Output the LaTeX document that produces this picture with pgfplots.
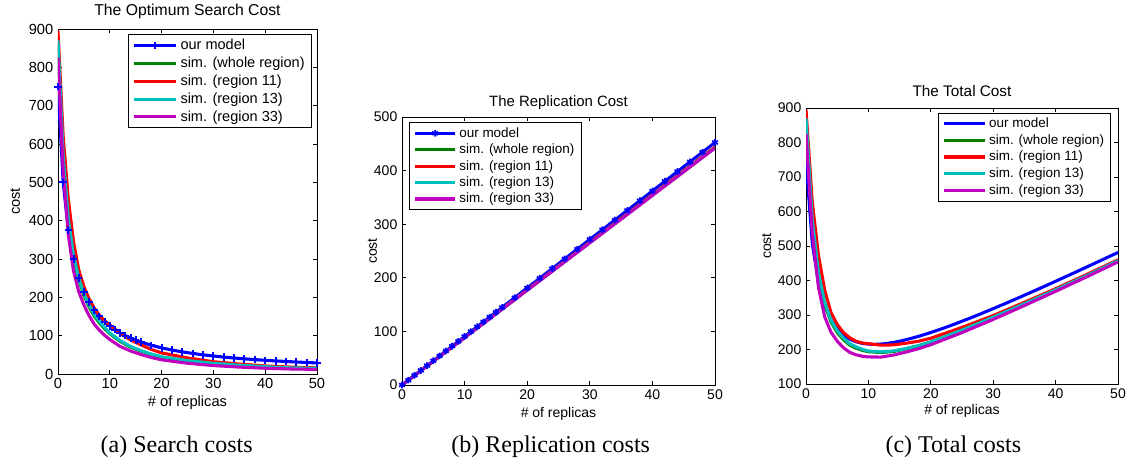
\documentclass[border=0pt]{standalone}
\usepackage{pgfplots}
\pgfplotsset{compat=1.18}
\usepackage{fontspec}
\setmainfont{Liberation Sans}
\newfontfamily\capfont{Liberation Serif}

\definecolor{mblue}{rgb}{0,0,1}
\definecolor{mgreen}{rgb}{0,0.5,0}
\definecolor{mred}{rgb}{1,0,0}
\definecolor{mcyan}{rgb}{0,0.75,0.75}
\definecolor{mmag}{rgb}{0.75,0,0.75}

% search cost, simulations (x, green, red, cyan, magenta)
\pgfplotstableread{
x   green red  cyan mag
0   860   895  870  825
1   560   620  570  530
2   398   455  405  362
3   305   345  310  268
4   245   272  250  215
5   205   228  210  180
6   175   196  180  152
7   151   172  155  130
8   133   153  137  114
9   118   139  121  101
10  105   128  107  90
12  85    106  87   72
14  70    89   72   60
16  60    76   61   51
18  51    64   52   43
20  44    55   45   37
25  34    42   35   28
30  27    32   28   22
35  22    26   23   18
40  18    21   19   15
45  15    18   16   13
50  14    16   15   12
}\searchsim

% model: search, replication and total cost
\pgfplotstableread{
x   search  repl   total
0   750     0      750
1   500     9.05   509.05
2   375     18.1   393.1
3   300     27.15  327.15
4   250     36.2   286.2
5   214.3   45.25  259.55
6   187.5   54.3   241.8
7   166.7   63.35  230.05
8   150     72.4   222.4
9   136.4   81.45  217.85
10  125     90.5   215.5
11  115.4   99.55  214.95
12  107.1   108.6  215.7
13  100     117.65 217.65
14  93.8    126.7  220.5
15  88.2    135.75 223.95
16  83.3    144.8  228.1
18  75      162.9  237.9
20  68.2    181    249.2
22  62.5    199.1  261.6
24  57.7    217.2  274.9
26  53.6    235.3  288.9
28  50      253.4  303.4
30  46.9    271.5  318.4
32  44.1    289.6  333.7
34  41.7    307.7  349.4
36  39.5    325.8  365.3
38  37.5    343.9  381.4
40  35.7    362    397.7
42  34.1    380.1  414.2
44  32.6    398.2  430.8
46  31.3    416.3  447.6
48  30      434.4  464.4
50  28.8    452.5  481.3
}\model

% replication cost, simulations
\pgfplotstableread{
x   green  red    cyan   mag
0   0      0      0      0
10  88.6   88.8   88.5   88.4
20  177.2  177.6  177    176.8
30  265.8  266.4  265.5  265.2
40  354.4  355.2  354    353.6
50  443    444    442.5  442
}\replsim

% total cost, simulations
\pgfplotstableread{
x   green   red     cyan    mag
0   860     895     870     825
1   568.86  628.9   578.85  538.84
2   415.72  472.8   422.7   379.68
3   331.58  371.64  336.55  294.52
4   280.44  307.52  285.4   250.36
5   249.3   272.4   254.25  224.2
6   228.16  249.28  233.1   205.04
7   213.02  234.16  216.95  191.88
8   203.88  224.04  207.8   184.72
9   197.74  218.92  200.65  180.56
10  193.6   216.8   195.5   178.4
12  191.32  212.56  193.2   178.08
14  194.04  213.32  195.9   183.76
16  201.76  218.08  202.6   192.44
18  210.48  223.84  211.3   202.12
20  221.2   232.6   222     213.8
25  255.5   264     256.25  249
30  292.8   298.4   293.5   287.2
35  332.1   336.8   332.75  327.4
40  372.4   376.2   373     368.6
45  413.7   417.6   414.25  410.8
50  457     460     457.5   454
}\totalsim

\pgfplotsset{
  matlab/.style={
    scale only axis,
    xmin=0, xmax=50, xtick={0,10,...,50},
    tick align=inside,
    major tick length=3pt,
    axis line style={line width=0.6pt},
    every tick/.style={black, line width=0.5pt},
    /pgf/number format/assume math mode=true,
    /pgf/number format/1000 sep={},
    legend cell align=left,
    legend style={draw=black, line width=0.6pt, fill=white,
      inner xsep=3pt, inner ysep=1.5pt},
    every axis plot/.append style={line width=2.3pt},
    ylabel={cost},
    xlabel={\# of replicas},
    every axis title shift=0pt,
    title style={anchor=base},
    xlabel style={anchor=base},
    ylabel style={anchor=base},
  },
  leglen/.style={
    legend image code/.code={%
      \draw[mark repeat=2,mark phase=2,##1] plot coordinates {(0pt,0pt) (#1/2,0pt) (#1,0pt)};}
  },
}

\begin{document}
\begin{tikzpicture}
\path[use as bounding box] (0pt,0pt) rectangle (853.5pt,347.25pt);

% (a) search cost
\begin{axis}[matlab, leglen=32pt,
  at={(43.5pt,66.75pt)}, anchor=south west,
  width=194.25pt, height=258.75pt,
  ymin=0, ymax=900, ytick={0,100,...,900},
  ticklabel style={font=\fontsize{11}{13}\selectfont},
  label style={font=\fontsize{11}{13}\selectfont},
  title={The Optimum Search Cost},
  title style={at={(axis description cs:0.5,1.038)}, font=\fontsize{11.8}{13}\selectfont},
  xlabel style={at={(axis description cs:0.5,-0.093)}},
  ylabel style={at={(axis description cs:-0.147,0.5)}},
  legend style={at={(0.9795,0.985)}, anchor=north east, row sep=0pt,
    font=\fontsize{10.9}{13}\selectfont},
]
\addplot[mblue, mark=+, mark size=2.8pt, mark options={solid, line width=1.5pt}] table[x=x, y=search] {\model};
\addplot[mgreen] table[x=x, y=green] {\searchsim};
\addplot[mred] table[x=x, y=red] {\searchsim};
\addplot[mcyan] table[x=x, y=cyan] {\searchsim};
\addplot[mmag] table[x=x, y=mag] {\searchsim};
\legend{our model, sim. (whole region), sim. (region 11), sim. (region 13), sim. (region 33)}
\end{axis}

% (b) replication cost
\begin{axis}[matlab, leglen=30pt,
  at={(301.5pt,58.5pt)}, anchor=south west,
  width=234.75pt, height=201pt,
  ymin=0, ymax=500, ytick={0,100,...,500},
  ticklabel style={font=\fontsize{10.5}{12}\selectfont},
  label style={font=\fontsize{10.5}{12}\selectfont},
  title={The Replication Cost},
  title style={at={(axis description cs:0.5,1.038)}, font=\fontsize{11.2}{13}\selectfont},
  xlabel style={at={(axis description cs:0.5,-0.122)}},
  ylabel style={at={(axis description cs:-0.08,0.5)}},
  legend style={at={(0.023,0.98)}, anchor=north west, row sep=-0.5pt,
    font=\fontsize{10.1}{12}\selectfont},
]
\addplot[mblue, mark=asterisk, mark size=2.5pt, mark options={solid, line width=1.3pt}] table[x=x, y=repl] {\model};
\addplot[mgreen] table[x=x, y=green] {\replsim};
\addplot[mred] table[x=x, y=red] {\replsim};
\addplot[mcyan] table[x=x, y=cyan] {\replsim};
\addplot[mmag] table[x=x, y=mag] {\replsim};
\legend{our model, sim. (whole region), sim. (region 11), sim. (region 13), sim. (region 33)}
\end{axis}

% (c) total cost
\begin{axis}[matlab, leglen=30.5pt,
  at={(604.5pt,59.25pt)}, anchor=south west,
  width=234pt, height=207pt,
  ymin=100, ymax=900, ytick={100,200,...,900},
  ticklabel style={font=\fontsize{10.5}{12}\selectfont},
  label style={font=\fontsize{10.5}{12}\selectfont},
  title={The Total Cost},
  title style={at={(axis description cs:0.5,1.041)}, font=\fontsize{11.5}{13}\selectfont},
  xlabel style={at={(axis description cs:0.5,-0.112)}},
  ylabel style={at={(axis description cs:-0.112,0.5)}},
  legend style={at={(0.978,0.983)}, anchor=north east, row sep=-0.3pt,
    font=\fontsize{10.1}{12}\selectfont},
]
\addplot[mblue] table[x=x, y=total] {\model};
\addplot[mgreen] table[x=x, y=green] {\totalsim};
\addplot[mred] table[x=x, y=red] {\totalsim};
\addplot[mcyan] table[x=x, y=cyan] {\totalsim};
\addplot[mmag] table[x=x, y=mag] {\totalsim};
\legend{our model, sim. (whole region), sim. (region 11), sim. (region 13), sim. (region 33)}
\end{axis}

% sub-figure captions
\node[anchor=base, font=\capfont\fontsize{18}{20}\selectfont] at (132.5pt,7.5pt) {(a) Search costs};
\node[anchor=base, font=\capfont\fontsize{18}{20}\selectfont] at (413pt,7.5pt) {(b) Replication costs};
\node[anchor=base, font=\capfont\fontsize{18}{20}\selectfont] at (715pt,7.5pt) {(c) Total costs};
\end{tikzpicture}
\end{document}
